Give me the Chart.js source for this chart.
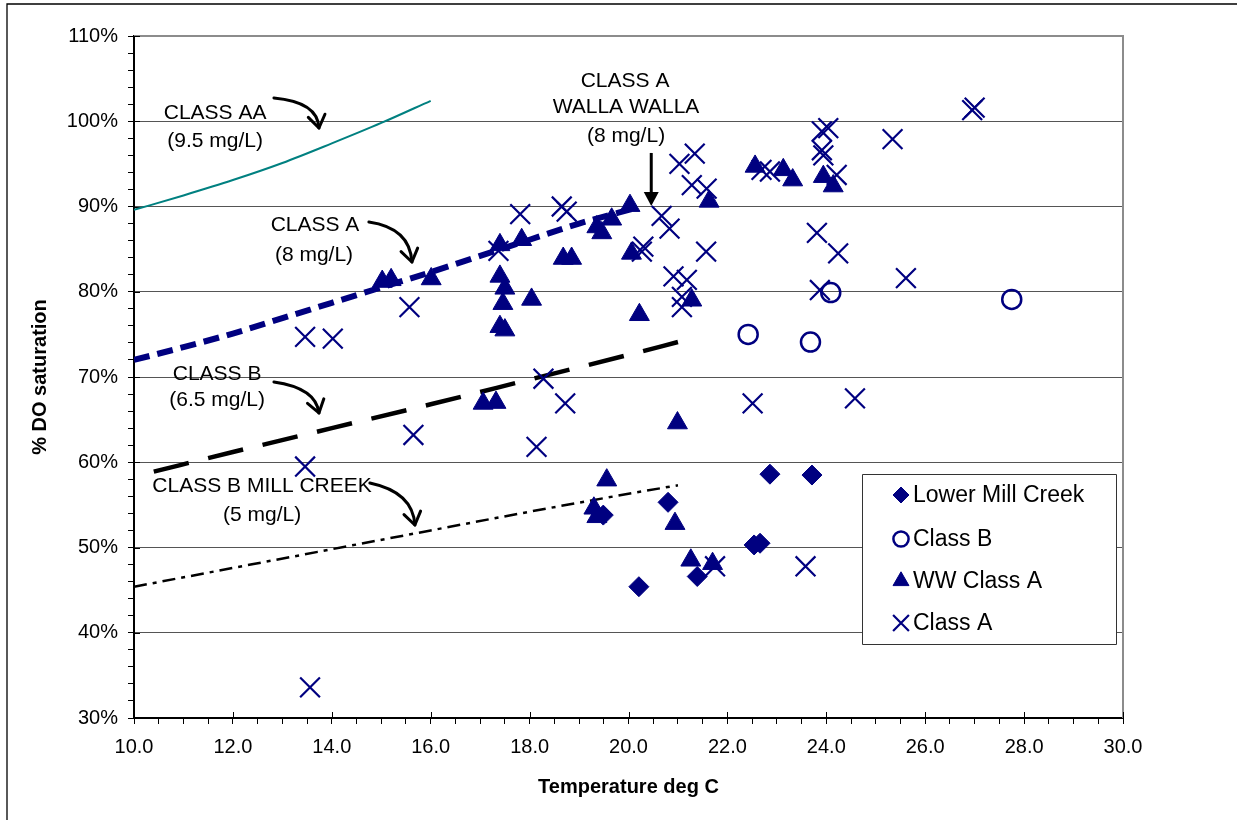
<!DOCTYPE html>
<html>
<head>
<meta charset="utf-8">
<script src="https://cdn.jsdelivr.net/npm/chart.js@4.4.1/dist/chart.umd.min.js"></script>
<style>
  html, body { margin: 0; padding: 0; background: #fff; }
</style>
</head>
<body>
<canvas id="doChart" width="1237" height="820"></canvas>
<script>
// Lower Mill Creek
const millCreekTemp = [20.21, 20.80, 19.49, 22.86, 23.71, 22.54, 22.66, 21.39];
const millCreekDO   = [45.4, 55.3, 53.8, 58.6, 58.5, 50.3, 50.5, 46.6];

// Class B
const classBTemp = [22.42, 23.68, 24.09, 27.75];
const classBDO   = [75.0, 74.1, 79.9, 79.1];

// WW Class A
const wwTemp = [15.02, 15.20, 16.01, 17.40, 17.84, 18.68, 18.85, 19.36, 19.46, 19.66, 20.03, 20.06,
                17.40, 17.50, 17.46, 18.04, 17.40, 17.50, 20.22, 21.63, 22.56, 23.13, 23.32, 23.94,
                24.14, 21.28, 17.06, 17.32, 20.99, 19.56, 19.30, 19.36, 20.94, 21.26, 21.70];
const wwDO   = [81.2, 81.4, 81.5, 85.5, 86.1, 83.9, 83.9, 87.6, 86.9, 88.5, 90.1, 84.5,
                81.8, 80.4, 78.6, 79.1, 75.9, 75.5, 77.3, 90.6, 94.7, 94.3, 93.1, 93.5,
                92.4, 79.0, 66.9, 67.0, 64.6, 57.9, 54.6, 53.6, 52.8, 48.5, 48.1];

// Class A
const classATemp = [13.46, 14.02, 15.57, 15.65, 13.46, 13.56, 17.37, 17.81, 18.65, 18.75, 18.28,
                    18.14, 18.72, 20.67, 20.83, 20.30, 20.27, 21.03, 21.34, 21.28, 21.58, 21.57,
                    20.91, 21.18, 21.08, 21.08, 21.75, 22.51, 22.69, 22.86, 23.58, 23.81, 23.87,
                    23.91, 23.94, 23.91, 24.04, 24.21, 24.24, 24.58, 25.34, 25.61, 26.95, 27.00];
const classADO   = [74.7, 74.5, 78.2, 63.2, 59.5, 33.6, 84.8, 89.1, 90.0, 89.4, 69.8,
                    61.8, 66.9, 88.9, 87.4, 85.3, 84.7, 95.0, 96.2, 92.5, 92.1, 84.7,
                    81.8, 81.4, 79.4, 78.2, 47.8, 66.9, 94.3, 94.1, 47.8, 86.9, 80.2,
                    96.6, 96.0, 98.8, 99.2, 93.7, 84.5, 67.5, 97.9, 81.6, 101.3, 101.6];

// criteria curves
const aaTemp = [10, 11, 12, 13, 14, 15, 16];
const aaDO   = [89.6, 91.3, 93.1, 95.1, 97.4, 99.8, 102.4];
const classALineTemp = [10, 11, 12, 13, 14, 15, 16, 17, 18, 19, 20.2];
const classALineDO   = [72.0, 73.5, 75.1, 76.9, 78.7, 80.5, 82.3, 84.2, 86.1, 88.0, 89.9];
const classBLineTemp = [10.4, 12, 14, 16, 18, 20, 21];
const classBLineDO   = [58.9, 61.2, 64.0, 66.8, 69.7, 72.6, 74.1];
const millLineTemp = [10, 12, 14, 16, 18, 20, 21];
const millLineDO   = [45.4, 47.6, 49.8, 52.0, 54.2, 56.3, 57.3];

const FONT = '"Liberation Sans", Arial, sans-serif';
const NAVY = '#000080';

function pts(xs, ys) {
  return xs.map((x, i) => ({ x: x, y: ys[i] }));
}

// text labels and arrows, placed in data units
const labels = [
  ['CLASS AA', 11.64, 100.97], ['(9.5 mg/L)', 11.64, 97.68],
  ['CLASS A', 13.66, 87.83], ['(8 mg/L)', 13.64, 84.31],
  ['CLASS A', 19.93, 104.72], ['WALLA WALLA', 19.95, 101.67], ['(8 mg/L)', 19.95, 98.27],
  ['CLASS B', 11.68, 70.35], ['(6.5 mg/L)', 11.68, 67.3],
  ['CLASS B MILL CREEK', 12.59, 57.21], ['(5 mg/L)', 12.59, 53.81]
];
const curvedArrows = [
  [[12.83, 102.73], [13.72, 102.26], [13.74, 99.21]],
  [[14.75, 88.18], [15.58, 87.48], [15.62, 83.49]],
  [[12.83, 69.41], [13.68, 68.71], [13.74, 65.78]],
  [[14.77, 57.57], [15.64, 56.51], [15.68, 52.64]]
];
const wwArrow = [[20.46, 96.28], [20.46, 90.06]];

const decor = {
  id: 'decor',
  beforeDatasetsDraw(chart) {
    const { ctx, chartArea: a } = chart;
    const xs = chart.scales.x, ys = chart.scales.y;
    ctx.save();
    // plot area border (top/right)
    ctx.strokeStyle = '#8c8c8c';
    ctx.lineWidth = 2;
    ctx.beginPath();
    ctx.moveTo(a.left, a.top);
    ctx.lineTo(a.right, a.top);
    ctx.lineTo(a.right, a.bottom);
    ctx.stroke();
    // major ticks crossing into plot
    ctx.strokeStyle = '#000';
    ctx.lineWidth = 1;
    ctx.beginPath();
    xs.ticks.forEach(t => {
      if (t.value % 2 === 0) {
        const px = Math.round(xs.getPixelForValue(t.value)) + 0.5;
        ctx.moveTo(px, a.bottom);
        ctx.lineTo(px, a.bottom - 6);
      }
    });
    ys.ticks.forEach(t => {
      if (t.value % 10 === 0) {
        const py = Math.round(ys.getPixelForValue(t.value)) + 0.5;
        ctx.moveTo(a.left, py);
        ctx.lineTo(a.left + 6, py);
      }
    });
    ctx.stroke();
    ctx.restore();
  },
  afterDatasetsDraw(chart) {
    const { ctx } = chart;
    const xs = chart.scales.x, ys = chart.scales.y;
    const P = p => ({ x: xs.getPixelForValue(p[0]), y: ys.getPixelForValue(p[1]) });
    ctx.save();
    // labels
    ctx.fillStyle = '#000';
    ctx.font = '21px ' + FONT;
    ctx.textAlign = 'center';
    ctx.textBaseline = 'middle';
    labels.forEach(l => {
      const p = P([l[1], l[2]]);
      ctx.fillText(l[0], p.x, p.y);
    });
    // curved arrows
    ctx.strokeStyle = '#000';
    ctx.lineWidth = 3;
    ctx.lineCap = 'round';
    ctx.lineJoin = 'round';
    curvedArrows.forEach(arr => {
      const p0 = P(arr[0]), p1 = P(arr[1]), p2 = P(arr[2]);
      ctx.beginPath();
      ctx.moveTo(p0.x, p0.y);
      ctx.quadraticCurveTo(p1.x, p1.y, p2.x, p2.y);
      ctx.stroke();
      const ang = Math.atan2(p2.y - p1.y, p2.x - p1.x) - 0.15;
      const L = 15;
      ctx.beginPath();
      ctx.moveTo(p2.x - L * Math.cos(ang - 0.6), p2.y - L * Math.sin(ang - 0.6));
      ctx.lineTo(p2.x, p2.y);
      ctx.lineTo(p2.x - L * Math.cos(ang + 0.6), p2.y - L * Math.sin(ang + 0.6));
      ctx.stroke();
    });
    // straight arrow for Walla Walla
    const a0 = P(wwArrow[0]), a1 = P(wwArrow[1]);
    ctx.lineCap = 'butt';
    ctx.beginPath();
    ctx.moveTo(a0.x, a0.y);
    ctx.lineTo(a1.x, a1.y - 12);
    ctx.stroke();
    ctx.fillStyle = '#000';
    ctx.beginPath();
    ctx.moveTo(a1.x, a1.y);
    ctx.lineTo(a1.x - 7.5, a1.y - 14);
    ctx.lineTo(a1.x + 7.5, a1.y - 14);
    ctx.closePath();
    ctx.fill();

    // legend
    const bx = 862, by = 474, bw = 254, bh = 170;
    ctx.fillStyle = '#fff';
    ctx.fillRect(bx, by, bw, bh);
    ctx.strokeStyle = '#333';
    ctx.lineWidth = 1;
    ctx.strokeRect(bx + 0.5, by + 0.5, bw, bh);
    ctx.font = '23px ' + FONT;
    ctx.textAlign = 'left';
    ctx.textBaseline = 'middle';
    const rows = [21, 65, 107, 149];
    chart.data.datasets.slice(0, 4).forEach((ds, i) => {
      const cy = by + rows[i];
      ctx.fillStyle = ds.backgroundColor;
      ctx.strokeStyle = ds.borderColor;
      ctx.lineWidth = ds.borderWidth;
      Chart.helpers.drawPoint(ctx, {
        pointStyle: ds.pointStyle,
        radius: ds.pointRadius * 0.8,
        borderWidth: ds.borderWidth,
        rotation: 0
      }, 901, cy);
      ctx.fillStyle = '#000';
      ctx.fillText(ds.label, 913, cy + 1);
    });
    ctx.restore();
  },
  afterDraw(chart) {
    const { ctx } = chart;
    ctx.save();
    ctx.strokeStyle = '#000';
    ctx.lineWidth = 1.3;
    ctx.beginPath();
    ctx.moveTo(7, 820);
    ctx.lineTo(7, 4);
    ctx.lineTo(1237, 4);
    ctx.stroke();
    ctx.restore();
  }
};

Chart.defaults.font.family = FONT;
Chart.defaults.color = '#000';

new Chart(document.getElementById('doChart'), {
  type: 'scatter',
  data: {
    datasets: [
      {
        label: 'Lower Mill Creek',
        data: pts(millCreekTemp, millCreekDO),
        pointStyle: 'rectRot', pointRadius: 10,
        backgroundColor: NAVY, borderColor: NAVY, borderWidth: 1
      },
      {
        label: 'Class B',
        data: pts(classBTemp, classBDO),
        pointStyle: 'circle', pointRadius: 9.5,
        backgroundColor: 'rgba(0,0,0,0)', borderColor: NAVY, borderWidth: 2.5
      },
      {
        label: 'WW Class A',
        data: pts(wwTemp, wwDO),
        pointStyle: 'triangle', pointRadius: 11.5,
        backgroundColor: NAVY, borderColor: NAVY, borderWidth: 1
      },
      {
        label: 'Class A',
        data: pts(classATemp, classADO),
        pointStyle: 'crossRot', pointRadius: 14,
        backgroundColor: NAVY, borderColor: NAVY, borderWidth: 2.2
      },
      {
        label: 'Class AA criterion',
        data: pts(aaTemp, aaDO),
        showLine: true, pointRadius: 0, borderColor: '#008080', borderWidth: 2,
        cubicInterpolationMode: 'monotone'
      },
      {
        label: 'Class A criterion',
        data: pts(classALineTemp, classALineDO),
        showLine: true, pointRadius: 0, borderColor: NAVY, borderWidth: 6,
        borderDash: [16, 8], cubicInterpolationMode: 'monotone'
      },
      {
        label: 'Class B criterion',
        data: pts(classBLineTemp, classBLineDO),
        showLine: true, pointRadius: 0, borderColor: '#000', borderWidth: 4.5,
        borderDash: [36, 20], cubicInterpolationMode: 'monotone'
      },
      {
        label: 'Class B Mill Creek criterion',
        data: pts(millLineTemp, millLineDO),
        showLine: true, pointRadius: 0, borderColor: '#000', borderWidth: 2.5,
        borderDash: [13, 6, 4, 6], cubicInterpolationMode: 'monotone'
      }
    ]
  },
  options: {
    responsive: false,
    animation: false,
    events: [],
    layout: { padding: { left: 0, top: 36, right: 114, bottom: 0 } },
    plugins: {
      legend: { display: false },
      tooltip: { enabled: false }
    },
    scales: {
      x: {
        type: 'linear', min: 10, max: 30,
        ticks: {
          stepSize: 0.5, autoSkip: false, maxRotation: 0, padding: 11,
          font: { size: 20 }, color: '#000',
          callback: v => (v % 2 === 0 ? v.toFixed(1) : '')
        },
        grid: { drawOnChartArea: false, drawTicks: true, tickLength: 6, tickColor: '#000' },
        border: { color: '#000', width: 2 },
        title: {
          display: true, text: 'Temperature deg C', color: '#000',
          font: { size: 20, weight: 'bold' }, padding: { top: 0, bottom: 21 }
        },
        afterFit: s => { s.height = 102; }
      },
      y: {
        type: 'linear', min: 30, max: 110,
        ticks: {
          stepSize: 2, autoSkip: false, padding: 10,
          font: { size: 20 }, color: '#000',
          callback: v => (v % 10 === 0 ? v + '%' : '')
        },
        grid: {
          color: c => (c.tick && c.tick.value % 10 === 0 && c.tick.value > 30 && c.tick.value < 110) ? '#555' : 'rgba(0,0,0,0)',
          drawTicks: true, tickLength: 6, tickColor: '#000'
        },
        border: { color: '#000', width: 2 },
        title: {
          display: true, text: '% DO saturation', color: '#000',
          font: { size: 20, weight: 'bold' }, padding: { top: 28, bottom: 0 }
        },
        afterFit: s => { s.width = 134; }
      }
    }
  },
  plugins: [decor]
});
</script>
</body>
</html>
